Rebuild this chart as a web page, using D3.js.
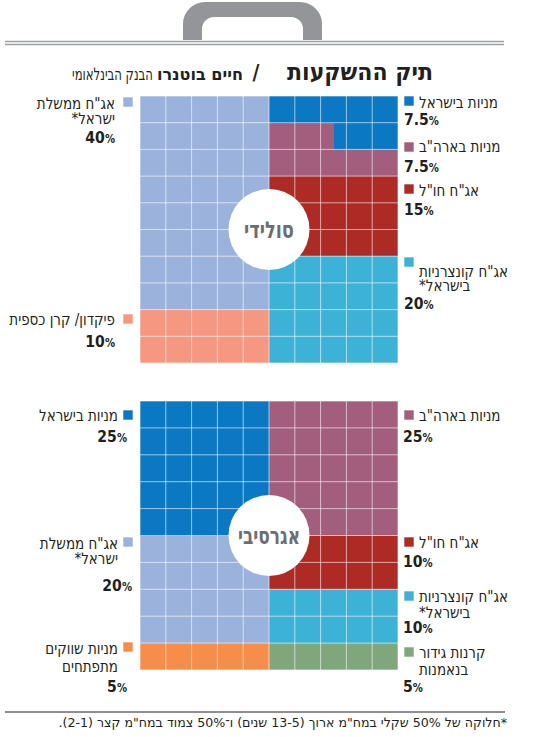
<!DOCTYPE html>
<html>
<head>
<meta charset="utf-8">
<script src="https://cdn.jsdelivr.net/npm/d3@7"></script>
<style>
  body { margin: 0; background: #fff; }
  svg { display: block; }
</style>
</head>
<body>
<div id="chart"></div>
<script>
// ---- data ----
const solidCategories = ["מניות בישראל", "מניות בארה\"ב", "אג\"ח חו\"ל", "אג\"ח קונצרניות\nבישראל*", "אג\"ח ממשלת\nישראל*", "פיקדון/ קרן כספית"];
const solidValues = [7.5, 7.5, 15, 20, 40, 10];
const solidHalf = [1, 1, 1, 1, 0, 0]; // 0 = left half, 1 = right half

const aggrCategories = ["מניות בישראל", "אג\"ח ממשלת\nישראל*", "מניות שווקים\nמתפתחים", "מניות בארה\"ב", "אג\"ח חו\"ל", "אג\"ח קונצרניות\nבישראל*", "קרנות גידור\nבנאמנות"];
const aggrValues = [25, 20, 5, 25, 10, 10, 5];
const aggrHalf = [0, 0, 0, 1, 1, 1, 1];

const colorKeys = ["מניות בישראל", "מניות בארה\"ב", "אג\"ח חו\"ל", "אג\"ח קונצרניות\nבישראל*", "אג\"ח ממשלת\nישראל*", "פיקדון/ קרן כספית", "מניות שווקים\nמתפתחים", "קרנות גידור\nבנאמנות"];
const colorValues = ["#0a78c2", "#a35d7d", "#ae2b25", "#3db2d7", "#9bb3dc", "#f69782", "#f78d4b", "#80a67b"];

// ---- layout: legend [marker top, first label baseline, value baseline, line gap, value edge shift] ----
const solidLegend = [[96, 108, 125, 15, 0], [142, 152, 172, 15, 0], [184, 196, 215, 15, 0], [257, 277, 309, 14, 0], [97, 109, 143, 15, 0], [314, 325, 347, 15, 0]];
const aggrLegend = [[410, 421, 442, 15, 12], [537, 549, 591, 15, 17], [642, 654, 692, 18, 12], [410, 421, 442, 15, -1], [537, 548, 567, 15, -1], [591, 602, 633, 16, -1], [647, 658, 692, 17, -1]];

const W = 550, H = 737;
const FONT = "'DejaVu Sans Condensed', 'DejaVu Sans', sans-serif";
const INK = "#231f20";

const svg = d3.select("#chart").append("svg").attr("width", W).attr("height", H);
const color = d3.scaleOrdinal().domain(colorKeys).range(colorValues);

// natural width of a string, used to squeeze the font into the narrow newspaper face
function natural(str, size, weight) {
  const t = svg.append("text").style("font-family", FONT).style("font-size", size + "px")
    .style("font-weight", weight).text(str);
  const w = t.node().getComputedTextLength();
  t.remove();
  return w;
}

function addText(str, x, y, o) {
  return svg.append("text")
    .attr("transform", `translate(${x},${y}) scale(${o.sx || 1},1)`)
    .attr("direction", o.dir || "rtl")
    .attr("text-anchor", o.anchor || "start")
    .style("font-family", FONT)
    .style("font-size", o.size + "px")
    .style("font-weight", o.weight || "normal")
    .attr("fill", o.fill || INK)
    .text(str);
}

// ---- header: briefcase handle + lines + title ----
svg.append("path")
  .attr("d", "M183,40 V24 A22,22 0 0 1 205,2 H300 A22,22 0 0 1 322,24 V40 H303 V29 A12,12 0 0 0 291,17 H214 A12,12 0 0 0 202,29 V40 Z")
  .attr("fill", "#939598");
[41.5, 44.5].forEach(y => svg.append("line").attr("x1", 5).attr("x2", 504).attr("y1", y).attr("y2", y)
  .attr("stroke", "#9d9fa2").attr("stroke-width", 1.3));

const titleParts = [
  { s: "תיק ההשקעות", right: 433, size: 24, weight: "bold", w: 146 },
  { s: "חיים בוטנרו", right: 243, size: 17, weight: "bold", w: 86 },
  { s: "הבנק הבינלאומי", right: 153, size: 17, weight: "normal", w: 81 }
];
titleParts.forEach(p => {
  addText(p.s, p.right, 80, { size: p.size, weight: p.weight, sx: p.w / natural(p.s, p.size, p.weight) });
});
addText("/", 256, 80, { size: 21, weight: "bold", anchor: "middle", dir: "ltr" });

// ---- scales for condensed text ----
const labelSx = 79 / natural("מניות בישראל", 16, "normal");
const valueSx = 35 / (natural("7.5", 16, "bold") + natural("%", 11.5, "bold"));

// ---- waffle ----
function drawWaffle(cats, vals, halves, legend, y0, y1, centerLabel, labelTarget, leftLabelEdge) {
  const x = d3.scaleLinear().domain([0, 10]).range([140, 398]);
  const y = d3.scaleLinear().domain([0, 10]).range([y0, y1]);
  const cum = [0, 0];
  const segs = [];
  cats.forEach((c, i) => {
    const h = halves[i];
    const start = cum[h], end = start + vals[i];
    cum[h] = end;
    for (let u = Math.floor(start); u < Math.ceil(end); u++) {
      const a = Math.max(start, u) - u, b = Math.min(end, u + 1) - u;
      segs.push({ c, row: Math.floor(u / 5), col: h * 5 + 4 - (u % 5), a, b });
    }
  });

  const g = svg.append("g");
  g.selectAll("rect").data(segs).join("rect")
    .attr("x", d => x(d.col + 1) - d.b * (x(d.col + 1) - x(d.col)))
    .attr("width", d => (d.b - d.a) * (x(d.col + 1) - x(d.col)))
    .attr("y", d => y(d.row))
    .attr("height", d => y(d.row + 1) - y(d.row))
    .attr("fill", d => color(d.c))
    .attr("shape-rendering", "crispEdges");

  const ticks = d3.range(11);
  g.selectAll(".v").data(ticks).join("line").attr("class", "v")
    .attr("x1", d => x(d)).attr("x2", d => x(d)).attr("y1", y(0)).attr("y2", y(10));
  g.selectAll(".h").data(ticks).join("line").attr("class", "h")
    .attr("y1", d => y(d)).attr("y2", d => y(d)).attr("x1", x(0)).attr("x2", x(10));
  g.selectAll("line").attr("stroke", "#fff").attr("stroke-opacity", 0.6).attr("stroke-width", 1);

  g.append("circle").attr("cx", x(5)).attr("cy", y(5)).attr("r", 40.5).attr("fill", "#fff");
  const cSx = labelTarget / natural(centerLabel, 23, "bold");
  addText(centerLabel, x(5), y(5) + 8, { size: 23, weight: "bold", anchor: "middle", fill: "#6d6e71", sx: cSx });

  // legends
  cats.forEach((c, i) => {
    const [my, ly, vy, gap, vshift] = legend[i];
    const right = halves[i] === 1;
    const mx = right ? x(10) + 6 : x(0) - 17;
    svg.append("rect").attr("x", mx).attr("y", my).attr("width", 10).attr("height", 10)
      .attr("fill", color(c)).attr("stroke", "#fff").attr("stroke-width", 0.6);
    c.split("\n").forEach((line, j) => {
      addText(line, right ? x(10) + 21 : leftLabelEdge, ly + j * gap,
        { size: 16, anchor: right ? "end" : "start", sx: labelSx });
    });
    const v = addText("", (right ? x(10) + 6 : x(0) - 25) + vshift, vy,
      { size: 16, weight: "bold", dir: "ltr", anchor: right ? "start" : "end", sx: valueSx });
    v.append("tspan").text(vals[i]);
    v.append("tspan").style("font-size", "11.5px").text("%");
  });
}

drawWaffle(solidCategories, solidValues, solidHalf, solidLegend, 96, 363, "סולידי", 50, 115);
drawWaffle(aggrCategories, aggrValues, aggrHalf, aggrLegend, 401, 670, "אגרסיבי", 62, 118);

// ---- footer ----
svg.append("line").attr("x1", 5).attr("x2", 505).attr("y1", 712).attr("y2", 712)
  .attr("stroke", INK).attr("stroke-width", 1.1);
const note = "*חלוקה של 50% שקלי במח\"מ ארוך (13-5 שנים) ו־50% צמוד במח\"מ קצר (2-1).";
addText(note, 507, 727, { size: 13, sx: 449 / natural(note, 13, "normal") });
</script>
</body>
</html>
